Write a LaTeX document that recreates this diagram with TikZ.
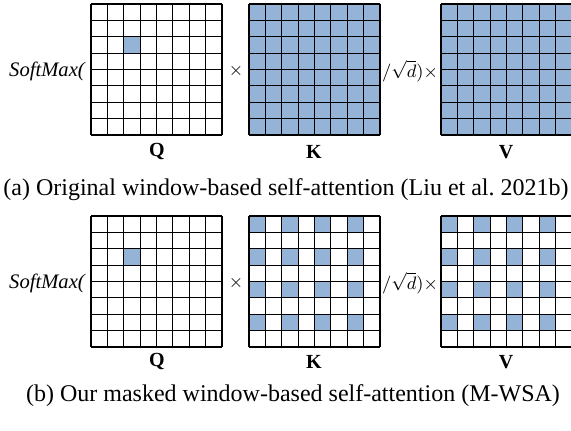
\documentclass[tikz,border=0pt]{standalone}
\usepackage{fontspec}
\setmainfont{Liberation Serif}
\definecolor{cellblue}{HTML}{95B3D7}
\begin{document}
\begin{tikzpicture}[x=0.5pt,y=-0.5pt,
    gridline/.style={line width=0.55pt},
    cell/.style={fill=cellblue},
    mtx/.style={font=\bfseries\fontsize{10}{12}\selectfont},
    op/.style={font=\fontsize{9}{11}\selectfont},
    softmax/.style={font=\itshape\fontsize{10.3}{12}\selectfont},
    caption/.style={font=\fontsize{12}{14}\selectfont}]
    \useasboundingbox (0,0) rectangle (571,431);

    % (a) original window attention
    \fill[cell] (91+2*16.375,4+2*16.375) rectangle +(16.375,16.375);
    \fill[cell] (249,4) rectangle (380,135);
    \fill[cell] (441,4) rectangle (572,135);
    \foreach \x in {91,249,441} {
        \foreach \k in {0,...,8} {
            \draw[gridline] (\x+\k*16.375,4) -- (\x+\k*16.375,135);
            \draw[gridline] (\x,4+\k*16.375) -- (\x+131,4+\k*16.375);
        }
    }
    \node[softmax] (smA) at (47,71) {SoftMax(};
    \node[op] (timesA) at (236,71) {$\times$};
    \node[op] (scaleA) at (410,71) {$/\sqrt{d})\times$};
    \node[mtx] (qA) at (157,152) {Q};
    \node[mtx] (kA) at (314,152) {K};
    \node[mtx] (vA) at (506,152) {V};
    \node[caption] (capA) at (286,190) {(a) Original window-based self-attention (Liu et al.\ 2021b)};

    % (b) masked window attention
    \fill[cell] (91+2*16.375,216+2*16.375) rectangle +(16.375,16.375);
    \foreach \x in {249,441} {
        \foreach \i in {0,2,4,6} {
            \foreach \j in {0,2,4,6} {
                \fill[cell] (\x+\i*16.375,216+\j*16.375) rectangle +(16.375,16.375);
            }
        }
    }
    \foreach \x in {91,249,441} {
        \foreach \k in {0,...,8} {
            \draw[gridline] (\x+\k*16.375,216) -- (\x+\k*16.375,347);
            \draw[gridline] (\x,216+\k*16.375) -- (\x+131,216+\k*16.375);
        }
    }
    \node[softmax] (smB) at (47,283) {SoftMax(};
    \node[op] (timesB) at (236,283) {$\times$};
    \node[op] (scaleB) at (410,283) {$/\sqrt{d})\times$};
    \node[mtx] (qB) at (157,362) {Q};
    \node[mtx] (kB) at (314,362) {K};
    \node[mtx] (vB) at (506,362) {V};
    \node[caption] (capB) at (293,396) {(b) Our masked window-based self-attention (M-WSA)};
\end{tikzpicture}
\end{document}
